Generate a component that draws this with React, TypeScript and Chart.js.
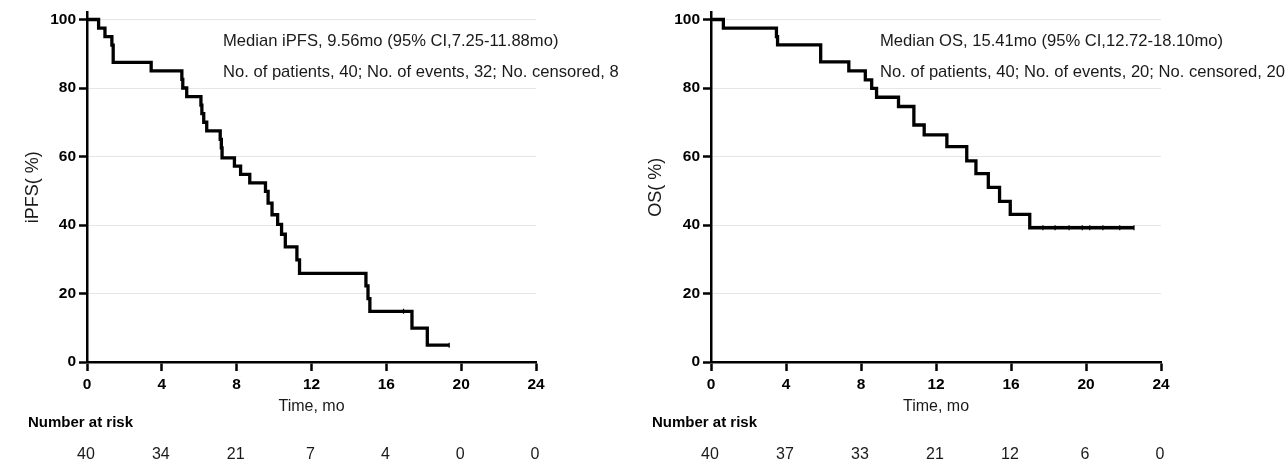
import React, { useEffect, useRef } from "react";
import { Chart, registerables } from "chart.js";

Chart.register(...registerables);

const FONT = "'Liberation Sans', Arial, Helvetica, sans-serif";

const xTicks = [0, 4, 8, 12, 16, 20, 24];
const yTicks = [0, 20, 40, 60, 80, 100];

// iPFS Kaplan-Meier steps (time in months, survival %)
const ipfsTimes = [0, 0.62, 0.96, 1.33, 1.4, 3.43, 5.07, 5.12, 5.33, 6.09, 6.14, 6.24, 6.4, 7.12, 7.18, 7.22, 7.88, 8.21, 8.7, 9.54, 9.68, 9.89, 10.19, 10.4, 10.6, 11.22, 11.36, 14.91, 15.02, 15.12, 17.37, 18.19, 19.36];
const ipfsSurv = [100, 97.5, 95, 92.5, 87.5, 85, 82.5, 80, 77.5, 75, 72.5, 70, 67.5, 65, 62.5, 59.6, 57.2, 54.8, 52.3, 49.8, 46.4, 43.0, 40.2, 37.3, 33.6, 29.8, 25.9, 22.2, 18.5, 14.8, 9.9, 4.9, 4.9];
const ipfsCensorTimes = [16.92, 19.36];
const ipfsCensorSurv = [14.8, 4.9];
const ipfsRisk = [40, 34, 21, 7, 4, 0, 0];
const ipfsNotes = [
  "Median iPFS, 9.56mo (95% CI,7.25-11.88mo)",
  "No. of patients, 40; No. of events, 32; No. censored, 8",
];

// OS Kaplan-Meier steps
const osTimes = [0, 0.66, 3.49, 3.55, 5.85, 7.35, 8.23, 8.57, 8.83, 10.0, 10.82, 11.37, 12.58, 13.64, 14.13, 14.79, 15.39, 15.96, 17.0, 22.56];
const osSurv = [100, 97.5, 95, 92.6, 87.6, 85, 82.4, 79.9, 77.3, 74.6, 69.2, 66.3, 62.9, 58.7, 55.0, 51.0, 46.9, 43.1, 39.2, 39.2];
const osCensorTimes = [17.7, 18.35, 19.1, 19.8, 20.2, 20.9, 21.8, 22.56];
const osCensorSurv = [39.2, 39.2, 39.2, 39.2, 39.2, 39.2, 39.2, 39.2];
const osRisk = [40, 37, 33, 21, 12, 6, 0];
const osNotes = [
  "Median OS, 15.41mo (95% CI,12.72-18.10mo)",
  "No. of patients, 40; No. of events, 20; No. censored, 20",
];

type PanelProps = {
  times: number[];
  surv: number[];
  cTimes: number[];
  cSurv: number[];
  risk: number[];
  notes: string[];
  yTitle: string;
  axisLeft: number;
  plotRight: number;
  yTitlePad: number;
  noteX: number;
  riskLabelX: number;
};

function KMPanel(p: PanelProps) {
  const ref = useRef<HTMLCanvasElement | null>(null);
  useEffect(() => {
    if (!ref.current) return;
    const overlay = {
      id: "kmOverlay",
      afterDraw(chart: any) {
        const ctx = chart.ctx;
        ctx.save();
        ctx.fillStyle = "#1a1a1a";
        ctx.textBaseline = "middle";
        ctx.textAlign = "left";
        ctx.font = `16.6px ${FONT}`;
        const noteY = [41, 72];
        p.notes.forEach((t, i) => ctx.fillText(t, p.noteX, noteY[i]));
        ctx.font = `bold 15px ${FONT}`;
        ctx.fillStyle = "#000";
        ctx.fillText("Number at risk", p.riskLabelX, 423);
        ctx.font = `16px ${FONT}`;
        ctx.fillStyle = "#1a1a1a";
        ctx.textAlign = "center";
        const xs = chart.scales.x;
        p.risk.forEach((v, i) => {
          ctx.fillText(String(v), xs.getPixelForValue(xTicks[i]) - 1, 455);
        });
        ctx.restore();
      },
    };
    const chart = new Chart(ref.current, {
      type: "line",
      data: {
        datasets: [
          {
            data: p.times.map((t, i) => ({ x: t, y: p.surv[i] })),
            stepped: "before",
            borderColor: "#000",
            borderWidth: 3.3,
            pointRadius: 0,
            fill: false,
            borderCapStyle: "butt",
            borderJoinStyle: "miter",
          } as any,
          {
            data: p.cTimes.map((t, i) => ({ x: t, y: p.cSurv[i] })),
            showLine: false,
            pointStyle: "line",
            rotation: 90,
            pointRadius: 2.5,
            borderColor: "#000",
            borderWidth: 1.2,
          } as any,
        ],
      },
      options: {
        animation: false,
        responsive: true,
        maintainAspectRatio: false,
        layout: { padding: { left: 0, right: p.plotRight, top: 12.65, bottom: 59 } },
        plugins: { legend: { display: false }, tooltip: { enabled: false } },
        scales: {
          x: {
            type: "linear",
            min: 0,
            max: 24,
            afterBuildTicks: (s: any) => {
              s.ticks = xTicks.map((v) => ({ value: v }));
            },
            afterFit: (s: any) => {
              s.height = 54;
            },
            grid: {
              drawOnChartArea: false,
              drawTicks: true,
              tickLength: 9,
              tickColor: "#000",
              tickWidth: 2.5,
            },
            border: { display: true, color: "#000", width: 2.5 },
            ticks: {
              font: { family: FONT, size: 15.5, weight: "bold" },
              color: "#000",
              padding: 4,
              maxRotation: 0,
              autoSkip: false,
            },
            title: {
              display: true,
              text: "Time, mo",
              font: { family: FONT, size: 16 },
              color: "#1a1a1a",
              padding: { top: 0, bottom: 0 },
            },
          },
          y: {
            min: 0,
            max: 102,
            afterBuildTicks: (s: any) => {
              s.ticks = yTicks.map((v) => ({ value: v }));
            },
            afterFit: (s: any) => {
              s.width = p.axisLeft;
            },
            grid: {
              color: "#e6e6e6",
              lineWidth: 1,
              drawTicks: true,
              tickLength: 8,
              tickColor: "#000",
              tickWidth: 2.5,
            },
            border: { display: true, color: "#000", width: 2.5 },
            ticks: {
              font: { family: FONT, size: 15.5, weight: "bold" },
              color: "#000",
              padding: 3,
            },
            title: {
              display: true,
              text: p.yTitle,
              font: { family: FONT, size: 18 },
              color: "#1a1a1a",
              padding: { top: p.yTitlePad, bottom: 0 },
            },
          },
        },
      } as any,
      plugins: [overlay],
    });
    return () => chart.destroy();
  }, []);
  return <canvas ref={ref} />;
}

export default function App() {
  return (
    <div style={{ position: "absolute", left: 0, top: 0, width: 1287, height: 475, background: "#fff" }}>
      <div style={{ position: "absolute", left: 0, top: 0, width: 640, height: 475 }}>
        <KMPanel
          times={ipfsTimes}
          surv={ipfsSurv}
          cTimes={ipfsCensorTimes}
          cSurv={ipfsCensorSurv}
          risk={ipfsRisk}
          notes={ipfsNotes}
          yTitle="iPFS( %)"
          axisLeft={87}
          plotRight={104}
          yTitlePad={22}
          noteX={223}
          riskLabelX={28}
        />
      </div>
      <div style={{ position: "absolute", left: 640, top: 0, width: 647, height: 475 }}>
        <KMPanel
          times={osTimes}
          surv={osSurv}
          cTimes={osCensorTimes}
          cSurv={osCensorSurv}
          risk={osRisk}
          notes={osNotes}
          yTitle="OS( %)"
          axisLeft={71}
          plotRight={126}
          yTitlePad={5}
          noteX={240}
          riskLabelX={12}
        />
      </div>
    </div>
  );
}
